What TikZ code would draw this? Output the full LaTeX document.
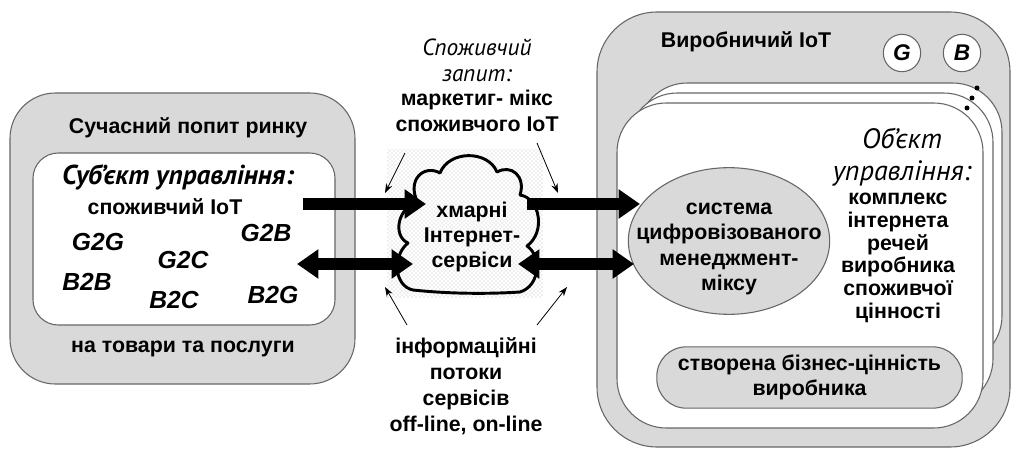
\documentclass[tikz,border=0pt]{standalone}
\usepackage{fontspec}
\setmainfont{Liberation Sans}
\newfontfamily\ptsans{PT Sans}
\usetikzlibrary{arrows.meta,shapes.geometric,patterns}
\begin{document}
\begin{tikzpicture}[x=0.75pt,y=-0.75pt,
  graybox/.style={draw=black!60,line width=0.8pt,fill=black!15},
  whitebox/.style={draw=black!60,line width=0.8pt,fill=white},
  bl/.style={font=\fontsize{16}{19}\selectfont\bfseries,align=center,inner sep=0pt},
  bltight/.style={font=\fontsize{16}{17}\selectfont\bfseries,align=center,inner sep=0pt},
  itl/.style={font=\ptsans\fontsize{21}{24}\selectfont\itshape,align=center,inner sep=0pt},
  itm/.style={font=\ptsans\fontsize{17.5}{19.5}\selectfont\itshape,align=center,inner sep=0pt},
  itb/.style={font=\ptsans\fontsize{20.5}{24}\selectfont\bfseries\itshape,inner sep=0pt},
  bit/.style={font=\fontsize{18.5}{22}\selectfont\bfseries\itshape,inner sep=0pt},
  letter/.style={circle,draw=black!60,line width=0.8pt,fill=white,minimum size=28pt,inner sep=0pt,
      font=\fontsize{17}{20}\selectfont\bfseries\itshape},
  fatarrow/.style={line width=9pt,-{Triangle[length=16pt,width=21pt]}},
  fatdouble/.style={line width=9pt,{Triangle[length=16pt,width=21pt]}-{Triangle[length=16pt,width=21pt]}},
  thinarrow/.style={line width=0.6pt,-{Stealth[length=7pt,width=5pt]}}
]
\useasboundingbox (0,0) rectangle (1013,449);

% ---------- left block ----------
\draw[graybox,rounded corners=34pt] (10,93) rectangle (355,384);
\draw[whitebox,rounded corners=19pt] (33,153) rectangle (335,325);
\node[bl] (demand) at (188,128) {Сучасний попит ринку};
\node[itb] (subj) at (178,177) {Суб’єкт управління:};
\node[bl] (cons) at (165,207) {споживчий IoT};
\node[bit] (g2g) at (98,242) {G2G};
\node[bit] (g2b) at (266,233) {G2B};
\node[bit] (g2c) at (183,260) {G2C};
\node[bit] (b2b) at (87,282) {B2B};
\node[bit] (b2c) at (174,300) {B2C};
\node[bit] (b2g) at (273,295) {B2G};
\node[bl] (goods) at (183,349) {на товари та послуги};

% ---------- middle ----------
\fill[pattern=crosshatch dots,pattern color=black!25] (387,150) rectangle (543,297);
\draw[line width=2.2pt,line join=round] (413,290)
  .. controls (450,294) and (490,294) .. (520,292)
  .. controls (540,286) and (542,256) .. (527,246)
  .. controls (546,232) and (540,198) .. (520,195)
  .. controls (526,176) and (511,164) .. (497,172)
  .. controls (488,150) and (449,150) .. (440,173)
  .. controls (424,164) and (406,180) .. (418,203)
  .. controls (398,206) and (392,236) .. (408,243)
  .. controls (392,256) and (394,286) .. (413,290) -- cycle;
\node[bl] (cloudtxt) at (472,237) {хмарні\\Інтернет-\\сервіси};
\node[itm] (query) at (477,60) {Споживчий\\запит:};
\node[bl] (mix) at (477,111) {маркетиг- мікс\\споживчого IoT};
\node[font=\fontsize{16}{19.5}\selectfont\bfseries,align=center,inner sep=0pt] (flows) at (466,386) {інформаційні\\потоки\\сервісів\\off-line, on-line};

% ---------- right block ----------
\draw[graybox,rounded corners=45pt] (597,12) rectangle (1010,447);
\node[bl] (prodiot) at (746,42) {Виробничий IoT};
\node[letter] (gnode) at (902,53) {G};
\node[letter] (bnode) at (962,53) {B};
\draw[whitebox,rounded corners=37pt] (638,83) rectangle (1002,365);
\draw[whitebox,rounded corners=37pt] (628,93) rectangle (993,408);
\draw[whitebox,rounded corners=37pt] (617,103) rectangle (983,428);
\fill (977,88) circle[radius=2.5];
\fill (972,98) circle[radius=2.5];
\fill (967,108) circle[radius=2.5];
\node[ellipse,draw=black!60,fill=black!15,line width=0.8pt,minimum width=151pt,minimum height=110pt] (mgmt) at (729,241) {};
\node[bl] (mgmttxt) at (729,249) {система\\цифровізованого\\менеджмент-\\міксу};
\node[itl] (obj) at (902,157) {Об’єкт\\управління:};
\node[bltight] (objlist) at (898,258) {комплекс\\інтернета\\речей\\виробника\\споживчої\\цінності};
\node[bl,draw=black!60,fill=black!15,line width=0.8pt,rounded corners=22pt,minimum width=229pt,minimum height=46pt] (value) at (809.5,377.5) {створена бізнес-цінність\\виробника};

% ---------- connectors ----------
\coordinate (u1s) at (303,204);
\coordinate (u1e) at (426,204);
\coordinate (u2s) at (527,204);
\coordinate (u2e) at (640,204);
\coordinate (l1s) at (297,264);
\coordinate (l1e) at (413,264);
\coordinate (l2s) at (518,264);
\coordinate (l2e) at (634,264);
\draw[fatarrow] (u1s) -- (u1e);
\draw[fatarrow] (u2s) -- (u2e);
\draw[fatdouble] (l1s) -- (l1e);
\draw[fatdouble] (l2s) -- (l2e);

\coordinate (t1s) at (405,153); \coordinate (t1e) at (385,193);
\coordinate (t2s) at (537,143); \coordinate (t2e) at (558,193);
\coordinate (t3s) at (407,325); \coordinate (t3e) at (385,287);
\coordinate (t4s) at (537,325); \coordinate (t4e) at (567,287);
\draw[thinarrow] (t1s) -- (t1e);
\draw[thinarrow] (t2s) -- (t2e);
\draw[thinarrow] (t3s) -- (t3e);
\draw[thinarrow] (t4s) -- (t4e);
\end{tikzpicture}
\end{document}
